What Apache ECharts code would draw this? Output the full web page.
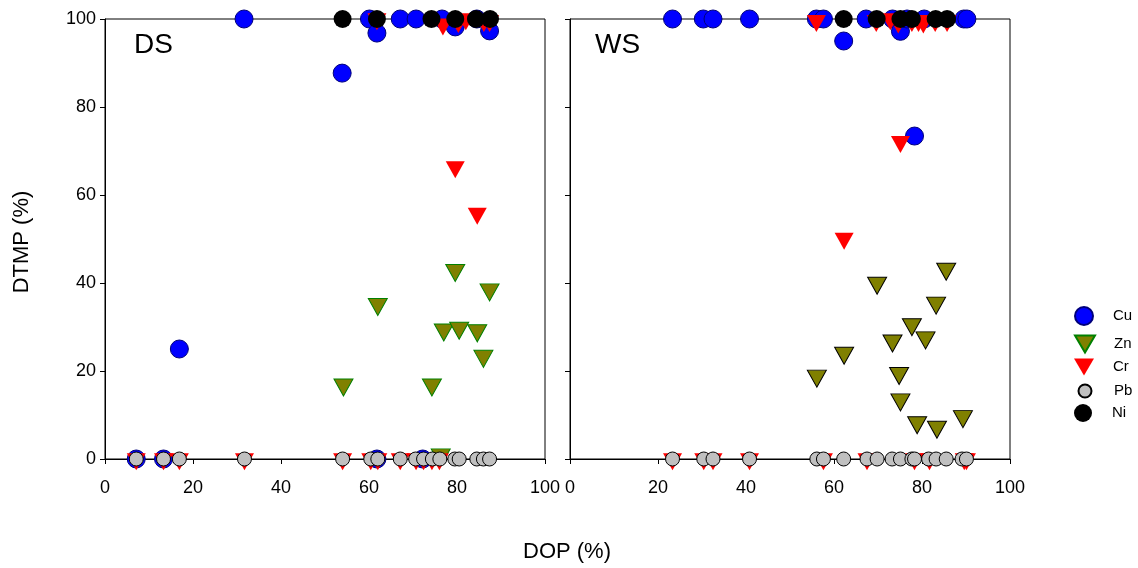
<!DOCTYPE html>
<html><head><meta charset="utf-8">
<script src="https://cdn.jsdelivr.net/npm/echarts@6/dist/echarts.min.js"></script>
<style>html,body{margin:0;padding:0;background:#fff}#c{width:1138px;height:568px}</style>
</head><body><div id="c"></div>
<script>
// ---- data: [DOP %, DTMP %] ----
const dsCu = [[7.1,0],[13.3,0],[16.9,25],[31.6,100],[53.9,87.7],[60.1,100],[61.8,96.8],[61.8,0],[67.1,100],[70.7,100],[72.2,0],[76.6,100],[79.6,98.2],[84.5,100],[87.4,97.3]];
const dsZn = [[54.2,16.9],[62.0,35.2],[74.3,16.9],[76.3,1],[77.0,29.4],[79.6,42.9],[80.5,29.8],[84.6,29.2],[86.0,23.4],[87.4,38.5]];
const dsCr = [[61.8,100],[76.8,98.8],[80.3,99.4],[82.0,100],[86.1,99.6],[87.4,99.6],[79.6,66.4],[84.6,55.8],
  [7.1,0],[13.3,0],[16.9,0],[31.7,0],[54.0,0],[60.4,0],[62.0,0],[67.1,0],[70.7,0],[72.4,0],[74.3,0],[76.0,0]];
const dsPb = [[7.1,0],[13.3,0],[16.9,0],[31.7,0],[54.0,0],[60.4,0],[62.0,0],[67.1,0],[70.6,0],[72.4,0],[74.4,0],[76.1,0],[79.5,0],[80.5,0],[84.5,0],[86.0,0],[87.4,0]];
const dsNi = [[54.0,100],[61.8,100],[74.2,100],[79.6,100],[84.3,100],[87.5,100]];

const wsCu = [[23.3,100],[30.3,100],[32.5,100],[40.8,100],[56.0,100],[57.6,100],[62.2,95],[67.3,100],[73.3,100],[75.1,97.2],[76.6,100],[78.3,73.4],[80.5,100],[89.5,100],[90.2,100]];
const wsZn = [[56.1,18.9],[62.3,24.1],[69.8,40.0],[73.3,26.9],[74.8,19.5],[75.1,13.5],[77.7,30.6],[78.9,8.3],[80.8,27.6],[83.2,35.5],[83.4,7.3],[85.5,43.2],[89.3,9.7]];
const wsCr = [[56.0,99.6],[69.6,99.6],[72.8,100],[74.6,99.3],[77.7,99.6],[79.2,99.6],[80.3,99.3],[83.0,99.6],[85.7,99.6],[62.3,50.1],[75.1,72.1],
  [23.3,0],[30.4,0],[32.5,0],[40.8,0],[57.6,0],[67.5,0],[78.3,0],[81.7,0],[89.6,0],[90.1,0]];
const wsPb = [[23.3,0],[30.4,0],[32.5,0],[40.8,0],[56.1,0],[57.6,0],[62.2,0],[67.5,0],[69.8,0],[73.2,0],[75.1,0],[77.7,0],[78.3,0],[81.5,0],[83.2,0],[85.5,0],[89.1,0],[90.1,0]];
const wsNi = [[62.2,100],[69.7,100],[75.1,100],[77.7,100],[83.1,100],[85.7,100]];

const panelNames = ['DS', 'WS'];
const metals = ['Cu', 'Zn', 'Cr', 'Pb', 'Ni'];
const xLabel = 'DOP (%)';
const yLabel = 'DTMP (%)';

// ---- styles ----
const FONT = '"Liberation Sans", Arial, sans-serif';
const DOWN_TRI = 'path://M0,0L20,0L10,17Z';
const styles = {
  Cu: {symbol:'circle', size:18, rot:0, off:[0,0], item:{color:'#0000ff', borderColor:'#00007a', borderWidth:1, opacity:1}},
  Zn: {symbol:'triangle', size:[19,17], rot:180, off:[0,2.8], icon:DOWN_TRI, item:{color:'#808000', borderColor:'#008000', borderWidth:1, opacity:1}},
  Cr: {symbol:'triangle', size:[19,17], rot:180, off:[0,2.8], icon:DOWN_TRI, item:{color:'#ff0000', borderWidth:0, opacity:1}},
  Pb: {symbol:'circle', size:14, rot:0, off:[0,0], item:{color:'#c0c0c0', borderColor:'#000', borderWidth:1, opacity:1}},
  Ni: {symbol:'circle', size:18, rot:0, off:[0,0], item:{color:'#000000', borderWidth:0, opacity:1}}
};
const wsZnBorder = '#000';

const panelData = [
  {Cu: dsCu, Zn: dsZn, Cr: dsCr, Pb: dsPb, Ni: dsNi},
  {Cu: wsCu, Zn: wsZn, Cr: wsCr, Pb: wsPb, Ni: wsNi}
];

const grids = [
  {left:105, top:19, width:440, height:440, show:true, borderColor:'#000', borderWidth:1, backgroundColor:'transparent'},
  {left:570, top:19, width:440, height:440, show:true, borderColor:'#000', borderWidth:1, backgroundColor:'transparent'}
];

function xAxis(gi){
  return {gridIndex:gi, type:'value', min:0, max:100, interval:20,
    axisLine:{show:true, onZero:false, lineStyle:{color:'#000', width:1}},
    axisTick:{show:true, inside:false, length:5, lineStyle:{color:'#000', width:1}},
    axisLabel:{show:true, color:'#000', fontSize:18, fontFamily:FONT, margin:20},
    splitLine:{show:false}};
}
function yAxis(gi){
  return {gridIndex:gi, type:'value', min:0, max:100, interval:20,
    axisLine:{show:true, onZero:false, lineStyle:{color:'#000', width:1}},
    axisTick:{show:true, inside:false, length:5, lineStyle:{color:'#000', width:1}},
    axisLabel:{show:gi === 0, color:'#000', fontSize:18, fontFamily:FONT, margin:9},
    splitLine:{show:false}};
}

const series = [];
panelData.forEach((pd, gi) => {
  metals.forEach(m => {
    const st = styles[m];
    const item = Object.assign({}, st.item);
    if (gi === 1 && m === 'Zn') item.borderColor = wsZnBorder;
    series.push({
      name:m, type:'scatter', xAxisIndex:gi, yAxisIndex:gi, data:pd[m],
      symbol:st.symbol, symbolSize:st.size, symbolRotate:st.rot, symbolOffset:st.off,
      itemStyle:item, clip:false, emphasis:{disabled:true}, silent:true
    });
  });
});

const legendCenters = {Cu:315, Zn:343, Cr:367, Pb:390, Ni:413};
const legends = metals.map(m => {
  const h = m === 'Pb' ? 13 : (styles[m].icon ? 17 : 18);
  const w = m === 'Pb' ? 13 : 20;
  const item = styles[m].icon ? {name:m, icon:styles[m].icon} : {name:m};
  return {
    data:[item], orient:'vertical', left:1084 - w/2, top:legendCenters[m] - h/2, padding:0,
    itemWidth:w, itemHeight:h, selectedMode:false,
    itemStyle:{opacity:1},
    textStyle:{color:'#000', fontSize:15, fontFamily:FONT, padding:[0,0,0, 1113 - (1084 + w/2) - 5]}
  };
});

const option = {
  animation:false,
  backgroundColor:'#fff',
  grid: grids,
  xAxis:[xAxis(0), xAxis(1)],
  yAxis:[yAxis(0), yAxis(1)],
  legend: legends,
  series: series,
  graphic:[
    {type:'text', x:134, y:45, style:{text:panelNames[0], font:'28px '+FONT, fill:'#000', align:'left', verticalAlign:'middle', textAlign:'left', textVerticalAlign:'middle'}},
    {type:'text', x:595, y:45, style:{text:panelNames[1], font:'28px '+FONT, fill:'#000', align:'left', verticalAlign:'middle', textAlign:'left', textVerticalAlign:'middle'}},
    {type:'text', x:567, y:552, style:{text:xLabel, font:'22px '+FONT, fill:'#000', align:'center', verticalAlign:'middle', textAlign:'center', textVerticalAlign:'middle'}},
    {type:'text', x:22, y:242, rotation:Math.PI/2, style:{text:yLabel, font:'22px '+FONT, fill:'#000', align:'center', verticalAlign:'middle', textAlign:'center', textVerticalAlign:'middle'}}
  ]
};
const chart = echarts.init(document.getElementById('c'));
chart.setOption(option);
</script>
</body></html>
